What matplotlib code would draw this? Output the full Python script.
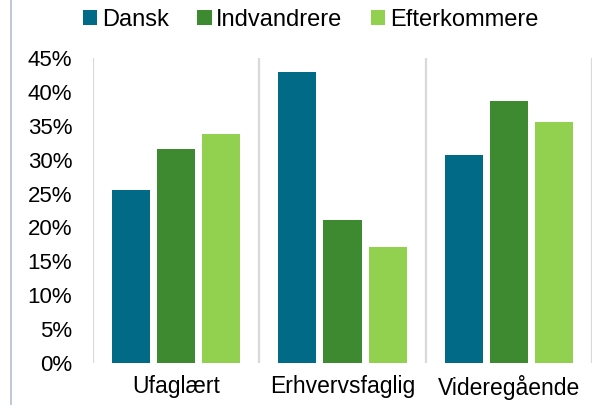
import numpy as np
import matplotlib
matplotlib.use("Agg")
import matplotlib.pyplot as plt
from matplotlib.lines import Line2D
from matplotlib.ticker import FuncFormatter

# data
kategorier = ["Ufaglært", "Erhvervsfaglig", "Videregående"]
dansk = [25.5, 42.9, 30.7]
indvandrere = [31.6, 21.1, 38.6]
efterkommere = [33.8, 17.1, 35.5]
serier = ["Dansk", "Indvandrere", "Efterkommere"]
farver = ["#006A87", "#3E8A31", "#92D050"]

plt.rcParams["font.family"] = ["Liberation Sans", "DejaVu Sans"]

fig = plt.figure(figsize=(6.08, 4.05), dpi=100)
ax = fig.add_axes([93 / 608, 42 / 405, 499 / 608, 305 / 405])

x = np.arange(len(kategorier))
bredde = 0.229
afstand = 0.271
for i, (vals, navn, farve) in enumerate(zip([dansk, indvandrere, efterkommere], serier, farver)):
    ax.bar(x + (i - 1) * afstand, vals, width=bredde, color=farve, label=navn)

ax.set_xlim(-0.5, 2.5)
ax.set_ylim(0, 45)
ax.set_yticks(np.arange(0, 46, 5))
ax.yaxis.set_major_formatter(FuncFormatter(lambda v, p: f"{v:.0f}%"))
ax.set_xticks(x)
ax.set_xticklabels(kategorier)
ax.tick_params(axis="both", length=0)
ax.tick_params(axis="y", pad=15, labelsize=16)
ax.tick_params(axis="x", pad=9, labelsize=16.5)

for s in ax.spines.values():
    s.set_visible(False)

# vertical separators between categories
for xv in [-0.5, 0.5, 1.5, 2.5]:
    ax.axvline(xv, color="#D9D9D9", lw=1.6, zorder=0)

fig.legend(loc="center", bbox_to_anchor=(0.511, 0.95), ncol=3, frameon=False,
           fontsize=17, handlelength=0.6, handleheight=0.6, handletextpad=0.2,
           columnspacing=1.2, borderpad=0)

# slide frame line on the left
fig.add_artist(Line2D([11 / 608, 11 / 608], [0, 1], color="#B4BFCF", lw=1.2))

fig.savefig("out.png", dpi=100)
